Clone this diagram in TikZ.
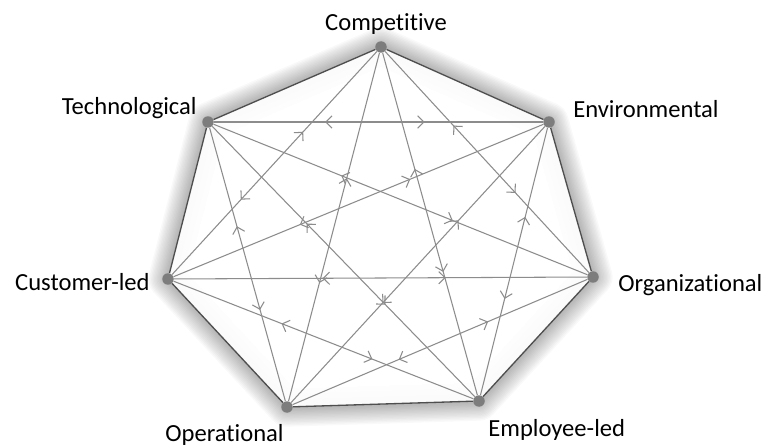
\documentclass[tikz,border=0pt]{standalone}
\usepackage{fontspec}
\setmainfont[Ligatures=NoCommon]{Carlito}
\usetikzlibrary{
  arrows.meta,
  backgrounds,
  decorations.markings
}
\definecolor{spoke}{RGB}{140,140,140}
\definecolor{rim}{RGB}{78,78,78}
\definecolor{hubgray}{RGB}{125,125,125}
\tikzset{
  hub/.style={
    circle,
    fill=hubgray,
    inner sep=0pt,
    minimum size=0.23cm
  },
  tag/.style={
    font=\fontsize{14}{16}\selectfont,
    inner sep=0pt
  },
  rimline/.style={
    draw=rim,
    line width=0.75pt
  },
  twoway/.style={
    color=spoke,
    line width=0.6pt,
    postaction={decorate},
    decoration={
      markings,
      mark=at position 0.36 with {\arrow{<}},
      mark=at position 0.64 with {\arrow{>}}
    }
  },
  glow/.style={
    black,
    opacity=0.023,
    line join=round,
    shift={(1,3)}
  }
}

\begin{document}
\begin{tikzpicture}[x=0.02cm, y=-0.02cm, >={Straight Barb[length=3.5pt,width=7pt]}]

  \useasboundingbox (0,0) rectangle (768,446);

  \node[hub] (comp) at (381,47)  {};
  \node[hub] (envi) at (549,122) {};
  \node[hub] (orga) at (593,277) {};
  \node[hub] (empl) at (479,401) {};
  \node[hub] (oper) at (287,407) {};
  \node[hub] (cust) at (168,279) {};
  \node[hub] (tech) at (208,122) {};

  \node[tag, anchor=base]      (comp-tag) at (386,31)  {Competitive};
  \node[tag, anchor=base east] (tech-tag) at (197,115) {Technological};
  \node[tag, anchor=base west] (envi-tag) at (573,118) {Environmental};
  \node[tag, anchor=base east] (cust-tag) at (150,290) {Customer-led};
  \node[tag, anchor=base west] (orga-tag) at (618,291) {Organizational};
  \node[tag, anchor=base west] (oper-tag) at (165,441) {Operational};
  \node[tag, anchor=base west] (empl-tag) at (488,436) {Employee-led};

  % outer rim
  \draw[rimline] (comp) -- (envi) -- (orga) -- (empl) -- (oper) -- (cust) -- (tech) -- (comp);

  % every diagonal, arrows both ways
  \foreach \a/\b in {comp/orga, envi/empl, orga/oper, empl/cust, oper/tech, cust/comp, tech/envi,
                     comp/empl, envi/oper, orga/cust, empl/tech, oper/comp, cust/envi, tech/orga}
    \draw[twoway] (\a) -- (\b);

  \begin{scope}[on background layer]
    \foreach \w in {1,...,14}
      \draw[glow, line width=\w*1.6pt]
        (comp.center) -- (envi.center) -- (orga.center) -- (empl.center)
        -- (oper.center) -- (cust.center) -- (tech.center) -- cycle;
    \fill[white, opacity=0.95]
      (comp.center) -- (envi.center) -- (orga.center) -- (empl.center)
      -- (oper.center) -- (cust.center) -- (tech.center) -- cycle;
  \end{scope}

\end{tikzpicture}
\end{document}
